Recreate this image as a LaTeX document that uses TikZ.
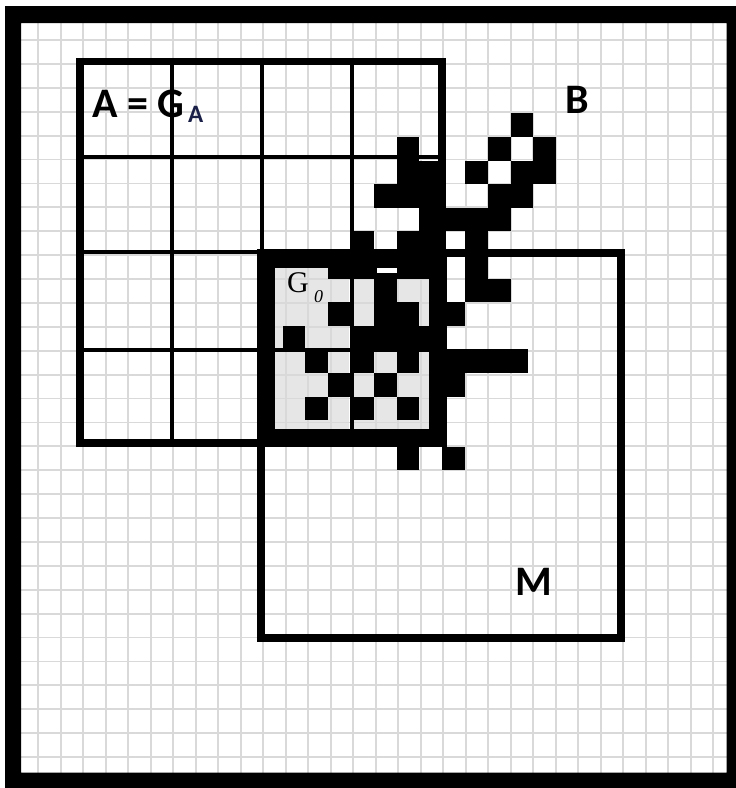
\documentclass[tikz,border=0pt]{standalone}
\usepackage{fontspec}
\setmainfont{Carlito}
\newfontfamily\serifG{Liberation Serif}
\definecolor{gridgray}{HTML}{D9D9D9}
\definecolor{gzero}{HTML}{E6E6E6}
\definecolor{subnavy}{rgb}{0.10,0.12,0.28}
\begin{document}
\begin{tikzpicture}[x=1pt,y=-1pt,
  gridline/.style={draw=gridgray,line width=1.8pt},
  outerline/.style={draw=black,line width=7.5pt},
  innerline/.style={draw=black,line width=4.5pt},
  mline/.style={draw=black,line width=8pt},
  gline/.style={draw=black,line width=18pt},
  cellfill/.style={fill=black},
  lbl/.style={inner sep=0pt,anchor=base west,font=\bfseries\fontsize{42}{42}\selectfont}]
\useasboundingbox (0,0) rectangle (736,788);
\fill[white] (0,0) rectangle (736,788);
% shaded intersection G0
\fill[gzero] (261,253) rectangle (442,443);
\draw[white,line width=2pt] (350,262) -- (350,440) (270,350) -- (440,350);
% fine grid
\foreach \k in {0,...,30}{
  \draw[gridline] ({38.3+22.5*\k},23) -- ({38.3+22.5*\k},773);
  \draw[gridline] (21,{40+23.9*\k}) -- (727,{40+23.9*\k});
}
% square A with its 4x4 cells
\foreach \xx in {172,262,352} \draw[innerline] (\xx,61.5) -- (\xx,443);
\foreach \yy in {157,252,350} \draw[innerline] (80,\yy) -- (442,\yy);
\draw[outerline] (80,61.5) rectangle (442,443);
% square M
\draw[mline] (261,253) rectangle (621,638);
% black set B
\foreach \c/\r in {9/0,
  4/1,8/1,10/1,
  4/2,5/2,7/2,9/2,10/2,
  3/3,4/3,5/3,8/3,9/3,
  5/4,6/4,7/4,8/4,
  2/5,4/5,5/5,7/5,
  1/6,2/6,3/6,4/6,5/6,7/6,
  3/7,7/7,8/7,
  1/8,3/8,4/8,6/8,
  -1/9,2/9,3/9,4/9,5/9,
  0/10,2/10,4/10,6/10,7/10,8/10,
  1/11,3/11,6/11,
  0/12,2/12,4/12}{
  \fill[cellfill] ({305.3+22.8*\c},{113.3+23.6*\r}) rectangle ++(22.8,23.6);
}
\fill[cellfill] (442.1,349.3) rectangle (528,372.9);
\fill[cellfill] (396.5,447) rectangle ++(22.8,23.4);
\fill[cellfill] (442.1,447) rectangle ++(22.8,23.4);
% frame of G0
\draw[gline] (266,259) rectangle (437.5,437.5);
\fill[white] (377,267.5) rectangle (397,273);
% outer frame
\fill[black,even odd rule] (5,6) rectangle (736,788) (21,23) rectangle (726.5,772.5);
% labels
\node[lbl] (labA) at (92,117) {A = G};
\node[inner sep=0pt,anchor=base west,text=subnavy,font=\bfseries\fontsize{25}{25}\selectfont] (labAsub) at (188,122) {A};
\node[lbl] (labB) at (565,113) {B};
\node[lbl] (labM) at (515,595) {M};
\node[inner sep=0pt,anchor=base west,font=\serifG\fontsize{30}{30}\selectfont] (labG) at (287,292) {G};
\node[inner sep=0pt,anchor=base west,font=\serifG\itshape\fontsize{18}{18}\selectfont] (labGsub) at (314,302) {0};
\end{tikzpicture}
\end{document}
